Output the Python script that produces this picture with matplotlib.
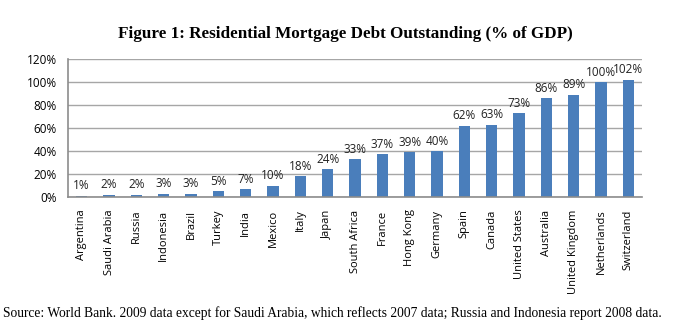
import matplotlib.pyplot as plt
import numpy as np

# residential mortgage debt outstanding, % of GDP
countries = ['Argentina', 'Saudi Arabia', 'Russia', 'Indonesia', 'Brazil', 'Turkey', 'India',
             'Mexico', 'Italy', 'Japan', 'South Africa', 'France', 'Hong Kong', 'Germany',
             'Spain', 'Canada', 'United States', 'Australia', 'United Kingdom', 'Netherlands',
             'Switzerland']
values = [1, 2, 2, 3, 3, 5, 7, 10, 18, 24, 33, 37, 39, 40, 62, 63, 73, 86, 89, 100, 102]
yticks = [0, 20, 40, 60, 80, 100, 120]

fig = plt.figure(figsize=(6.78, 3.32), dpi=100)
ax = fig.add_axes([68 / 678, 1 - 197 / 332, (642 - 68) / 678, (197 - 59) / 332])

x = np.arange(len(countries))
bars = ax.bar(x, values, width=0.42, color='#4A7EBB', zorder=2)
for xi, v in zip(x, values):
    ax.text(xi, v + 3, f"{v}%", ha='center', va='bottom', fontsize=8.5,
            family='Open Sans', color='#222222')

ax.set_xlim(-0.5, len(countries) - 0.5)
ax.set_ylim(0, 120)
ax.set_yticks(yticks)
ax.set_yticklabels([f"{t}%" for t in yticks], fontsize=8.5, family='Open Sans')
ax.set_xticks(x)
ax.set_xticklabels(countries, rotation=90, fontsize=8, family='Open Sans')
ax.tick_params(length=0)
ax.tick_params(axis='x', pad=9)
ax.tick_params(axis='y', pad=8)
ax.grid(axis='y', color='#A6A6A6', linewidth=1.0, zorder=0)
for s in ['top', 'right']:
    ax.spines[s].set_visible(False)
for s in ['left', 'bottom']:
    ax.spines[s].set_color('#8C8C8C')
    ax.spines[s].set_linewidth(1.2)

fig.text(0.509, 1 - 34 / 332, "Figure 1: Residential Mortgage Debt Outstanding (% of GDP)",
         ha='center', va='center', fontsize=12.3, fontweight='bold', family='Liberation Serif')
fig.text(0.004, 1 - 313 / 332,
         "Source: World Bank. 2009 data except for Saudi Arabia, which reflects 2007 data; "
         "Russia and Indonesia report 2008 data.",
         ha='left', va='center', fontsize=9.75, family='Liberation Serif')

fig.savefig('out.png', dpi=100)
